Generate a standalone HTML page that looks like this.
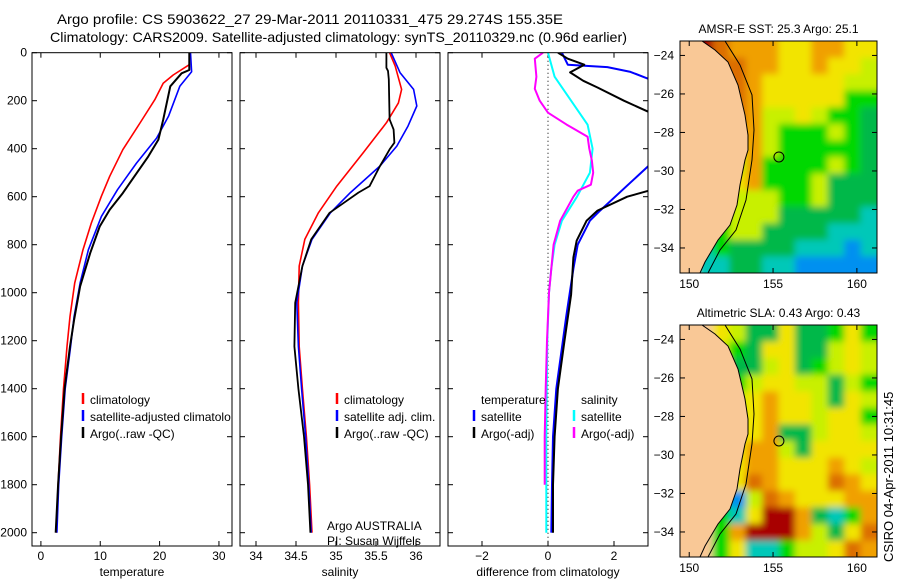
<!DOCTYPE html>
<html><head><meta charset="utf-8"><style>
body{margin:0;background:#fff;width:900px;height:580px;overflow:hidden}
svg text{font-family:"Liberation Sans",sans-serif;fill:#000}
</style></head><body>
<svg id="chart" width="900" height="580" viewBox="0 0 900 580" xmlns="http://www.w3.org/2000/svg">
<defs><filter id="blur" x="-5%" y="-5%" width="110%" height="110%"><feGaussianBlur stdDeviation="3.5"/></filter></defs>
<text x="57" y="24" font-size="14" textLength="506" lengthAdjust="spacingAndGlyphs">Argo profile: CS 5903622_27 29-Mar-2011 20110331_475 29.274S 155.35E</text>
<text x="50" y="42" font-size="14" textLength="577" lengthAdjust="spacingAndGlyphs">Climatology: CARS2009. Satellite-adjusted climatology: synTS_20110329.nc (0.96d earlier)</text>
<g id="plots"></g>
<text transform="translate(893,562) rotate(-90)" font-size="13">CSIRO 04-Apr-2011 10:31:45</text>
</svg>
<script>
// ---- depth profile data ----
const tDepth = [0,50,93,127,196,293,404,515,598,710,821,960,1099,1224,1400,1600,1800,2000];
const tClim  = [25.0,25.0,22.3,20.6,19.2,16.7,13.8,11.6,10.2,8.5,7.1,5.7,4.9,4.4,3.8,3.3,2.9,2.6];
const tDepthSat = [0,79,140,265,356,460,571,682,821,960,1099,1224,1400,1600,1800,2000];
const tSat   = [25.2,25.4,23.4,21.5,19.5,16.1,12.9,10.2,8.0,6.6,5.6,5.0,4.1,3.5,3.0,2.7];
const tDepthArgo = [0,72,86,140,279,362,432,585,654,724,835,974,1113,1224,1400,1600,1800,2000];
const tArgo  = [25.0,25.0,23.7,21.8,20.6,19.8,18.1,13.8,11.6,9.9,8.3,6.6,5.6,4.9,4.0,3.4,2.9,2.5];

const sDepthClim = [0,56,153,209,292,417,556,667,778,889,1042,1224,1400,1600,1800,2000];
const sClim  = [35.67,35.74,35.82,35.78,35.63,35.34,35.01,34.78,34.61,34.54,34.53,34.54,34.58,34.63,34.67,34.70];
const sDepthSat = [0,83,153,222,306,389,472,583,667,778,889,1042,1224,1400,1600,1800,2000];
const sSat   = [35.69,35.80,35.97,36.01,35.90,35.76,35.55,35.18,34.93,34.70,34.58,34.51,34.53,34.57,34.62,34.66,34.69];
const sDepthArgo = [0,63,76,111,278,320,375,403,472,556,583,667,778,889,1042,1224,1400,1600,1800,2000];
const sArgo  = [35.63,35.63,35.65,35.66,35.67,35.72,35.73,35.67,35.55,35.42,35.28,34.92,34.69,34.58,34.49,34.48,34.53,34.60,34.65,34.68];

const dDepthTS = [0,50,60,80,117];
const dTempSat1 = [0.42,0.6,1.8,2.5,3.2];
const dDepthTS2 = [460,471,658,700,800,900,1000,1100,1200,1400,1600,1800,2000];
const dTempSat2 = [3.3,3.05,1.58,1.27,0.9,0.77,0.66,0.55,0.45,0.25,0.15,0.12,0.1];
const dDepthTA = [0,25,50,82,117,145,200,250,260];
const dTempArgo1 = [0.3,0.6,1.1,0.67,1.07,1.5,2.3,3.1,3.3];
const dDepthTA2 = [560,575,600,658,700,783,853,1008,1200,1400,1600,1800,2000];
const dTempArgo2 = [3.3,3.05,2.4,1.5,1.17,0.87,0.77,0.7,0.5,0.3,0.2,0.15,0.15];
const dDepthSS = [0,100,200,300,400,500,600,700,800,900,1000,1200,1400,1600,1800,2000];
const dSalSat  = [0,0.2,0.7,1.2,1.35,1.27,0.88,0.42,0.2,0.1,0.03,-0.02,-0.04,-0.05,-0.05,-0.05];
const dDepthSA = [0,25,100,150,200,250,300,350,400,450,500,550,575,600,650,700,800,900,1000,1200,1400,1600,1800];
const dSalArgo = [-0.15,-0.4,-0.35,-0.4,-0.25,0,0.57,1.2,1.25,1.33,1.37,1.3,0.9,0.77,0.57,0.37,0.17,0.1,0.03,-0.03,-0.07,-0.1,-0.1];

const tempTicks=[0,10,20,30], salTicks=[34,34.5,35,35.5,36], difTicks=[-2,0,2], depthTicks=[0,200,400,600,800,1000,1200,1400,1600,1800,2000];
const lonTicks=[150,155,160], latTicks=[-24,-26,-28,-30,-32,-34];

// ---- map cell data (coarse colour grid) ----
const sstRows=["LroOOOyyOOyy","LLooOOyyOyyl","LLooOyyyyyll","LLLoOyyyyygg","LLLoOllylggG","LLLOOlggglgG","LLLyOlgggggG","LLLlOgggglgG","LLlyOggglGGG","LLllllgglGGG","LLglllGGGGGc","LggllGGGGccc","LcgGGGGcccbc","LccGGccbbbbb"];
const slaRows=["LLylGGyGGgyg","LLlgGyyGGlyl","LLlGGlyGglyl","LLlglyyllGlg","LLglyOyylGyl","LLglyOyylyyg","LLgyyOGGlyyl","LLgyOOlGyyyy","LLgyOOyyyOyl","LLGyoOyyyoOy","LLcbloOyyyOO","LlgcyrrOGcgO","LLgOrrrOlGyo","LLgyccgllyoO"];
const argoLon=155.35, argoLat=-29.274;
const palette={L:"#f9c896",r:"#a80000",o:"#dc6e00",O:"#f0a000",y:"#f2e400",l:"#c8f000",g:"#00d800",G:"#00b848",c:"#00c8b8",b:"#0090f0"};

const NS="http://www.w3.org/2000/svg";
const root=document.getElementById('plots');
function mk(tag,attrs,parent){const e=document.createElementNS(NS,tag);for(const k in attrs)e.setAttribute(k,attrs[k]);(parent||root).appendChild(e);return e;}
function txt(s,attrs,parent){const e=mk('text',attrs,parent);e.textContent=s;return e;}

const Y0=52.7, YS=0.24, FB=546;
const yD=d=>Y0+d*YS;
const panels=[
 {x0:32,x1:232,lo:-1.5,hi:32.2,ticks:tempTicks,label:"temperature",name:"temperature-panel"},
 {x0:240,x1:440,lo:33.8,hi:36.3,ticks:salTicks,label:"salinity",name:"salinity-panel"},
 {x0:448,x1:648,lo:-3.03,hi:3.03,ticks:difTicks,label:"difference from climatology",name:"difference-panel"}
];
panels.forEach((p,i)=>{
 p.x=v=>p.x0+(v-p.lo)/(p.hi-p.lo)*(p.x1-p.x0);
 const g=mk('g',{});
 
 
 p.g=g;
 const cp=mk('clipPath',{id:'cp'+i},g);
 mk('rect',{x:p.x0,y:Y0,width:p.x1-p.x0,height:FB-Y0},cp);
 p.ticks.forEach(t=>{const X=p.x(t);
  mk('line',{x1:X,x2:X,y1:Y0,y2:Y0+5,stroke:'#000'},g);
  mk('line',{x1:X,x2:X,y1:FB,y2:FB-5,stroke:'#000'},g);
  const tl=txt(String(t).replace('-','\u2212'),{x:X,y:560,'font-size':12,'text-anchor':'middle'},g);
  
  
 });
 depthTicks.forEach(d=>{const Y=yD(d);
  mk('line',{x1:p.x0,x2:p.x0+5,y1:Y,y2:Y,stroke:'#000'},g);
  mk('line',{x1:p.x1,x2:p.x1-5,y1:Y,y2:Y,stroke:'#000'},g);
  if(i===0){const yl=txt(String(d),{x:27,y:Y+4,'font-size':12,'text-anchor':'end'},g);
   
   }
 });
 const xl=txt(p.label,{x:(p.x0+p.x1)/2,y:576,'font-size':12,'text-anchor':'middle'},g);
 
 
 p.plot=mk('g',{'clip-path':'url(#cp'+i+')'},g);
});
function line(p,depths,vals,color,w,name){
 const pts=depths.map((d,k)=>p.x(vals[k]).toFixed(1)+','+yD(d).toFixed(1)).join(' ');
 const e=mk('polyline',{points:pts,fill:'none',stroke:color,'stroke-width':w,'stroke-linejoin':'round'},p.plot);
 
 
}
const P=panels;
mk('line',{x1:P[2].x(0),x2:P[2].x(0),y1:Y0,y2:FB,stroke:'#000','stroke-dasharray':'1,3'},P[2].plot);
line(P[0],tDepth,tClim,'#f00',1.6,'temperature-climatology-line');
line(P[0],tDepthSat,tSat,'#00f',1.6,'temperature-satellite-line');
line(P[0],tDepthArgo,tArgo,'#000',2,'temperature-argo-line');
line(P[1],sDepthClim,sClim,'#f00',1.6,'salinity-climatology-line');
line(P[1],sDepthSat,sSat,'#00f',1.6,'salinity-satellite-line');
line(P[1],sDepthArgo,sArgo,'#000',1.8,'salinity-argo-line');
line(P[2],dDepthSS,dSalSat,'#0ff',2,'salinity-satellite-diff-line');
line(P[2],dDepthSA,dSalArgo,'#f0f',2,'salinity-argo-diff-line');
line(P[2],dDepthTS,dTempSat1,'#00f',2,'temperature-satellite-diff-line-upper');
line(P[2],dDepthTS2,dTempSat2,'#00f',2,'temperature-satellite-diff-line-lower');
line(P[2],dDepthTA,dTempArgo1,'#000',2,'temperature-argo-diff-line-upper');
line(P[2],dDepthTA2,dTempArgo2,'#000',2,'temperature-argo-diff-line-lower');
panels.forEach(p=>mk('rect',{x:p.x0,y:Y0,width:p.x1-p.x0,height:FB-Y0,fill:'none',stroke:'#000'},p.g));

// legends
function legend(x,y,color,label,clipW){
 const g=mk('g',{});
 
 
 if(color)mk('line',{x1:x,x2:x,y1:y-11,y2:y,stroke:color,'stroke-width':2.5},g);
 const t=txt(label,{x:x+7,y:y,'font-size':12},g);
 if(clipW){const c=mk('clipPath',{id:'lc'+x+y},g);mk('rect',{x:x,y:y-14,width:clipW,height:18},c);t.setAttribute('clip-path','url(#lc'+x+y+')');}
}
legend(83,404,'#f00','climatology');
legend(83,421,'#00f','satellite-adjusted climatology',148);
legend(83,438,'#000','Argo(..raw -QC)');
legend(337,404,'#f00','climatology');
legend(337,421,'#00f','satellite adj. clim.');
legend(337,438,'#000','Argo(..raw -QC)');
legend(474,404,null,'temperature');
legend(474,421,'#00f','satellite');
legend(474,438,'#000','Argo(-adj)');
legend(574,404,null,'salinity');
legend(574,421,'#0ff','satellite');
legend(574,438,'#f0f','Argo(-adj)');
const a1=txt('Argo AUSTRALIA',{x:327,y:530,'font-size':12});


const a2=txt('PI: Susan Wijffels',{x:327,y:545,'font-size':12});



// maps
const MX0=680,MX1=877,LON0=149.45,LON1=161.2,LAT0=-23.25,LAT1=-35.3;
function drawMap(top,rows,title,name){
 const H=232;
 const g=mk('g',{});
 
 
 const mx=lon=>MX0+(lon-LON0)/(LON1-LON0)*(MX1-MX0);
 const my=lat=>top+(lat-LAT0)/(LAT1-LAT0)*H;
 const nr=rows.length,nc=rows[0].length,cw=(MX1-MX0)/nc,ch=H/nr;
 const cpm=mk('clipPath',{id:'cpm'+top},g);
 mk('rect',{x:MX0,y:top,width:MX1-MX0,height:H},cpm);
 const cg=mk('g',{'clip-path':'url(#cpm'+top+')'},g);
 const bg=mk('g',{filter:'url(#blur)'},cg);
 rows.forEach((r,ri)=>{for(let ci=0;ci<nc;ci++){
  const c=mk('rect',{x:(MX0+ci*cw-(ci===0?10:0)).toFixed(1),y:(top+ri*ch-(ri===0?10:0)).toFixed(1),width:(cw+0.6+(ci===0||ci===nc-1?10:0)).toFixed(1),height:(ch+0.6+(ri===0||ri===nr-1?10:0)).toFixed(1),fill:palette[r[ci]]},bg);
  
  
 }});
 const o=top-41;
 const land=[[680,41],[702,41],[715,50],[728,62],[738,85],[745,115],[748,135],[748,150],[745,160],[740,185],[737,205],[730,225],[718,240],[705,262],[700,273],[680,273]];
 const lp=mk('polygon',{points:land.map(q=>q[0]+','+(q[1]+o)).join(' '),fill:palette.L,stroke:'#000','stroke-width':1},cg);
 
 
 const iso=[[725,41],[740,65],[752,95],[754,130],[752,160],[746,200],[736,230],[720,250],[708,273]];
 const il=mk('polyline',{points:iso.map(q=>q[0]+','+(q[1]+o)).join(' '),fill:'none',stroke:'#000','stroke-width':1},cg);
 
 
 const ci=mk('circle',{cx:mx(argoLon),cy:my(argoLat),r:5,fill:'none',stroke:'#000'},g);
 
 
 mk('rect',{x:MX0,y:top,width:MX1-MX0,height:H,fill:'none',stroke:'#000'},g);
 lonTicks.forEach(l=>{const X=mx(l);
  mk('line',{x1:X,x2:X,y1:top,y2:top+5,stroke:'#000'},g);
  mk('line',{x1:X,x2:X,y1:top+H,y2:top+H-5,stroke:'#000'},g);
  const t=txt(String(l),{x:X,y:top+H+15,'font-size':12,'text-anchor':'middle'},g);
  
  
 });
 latTicks.forEach(l=>{const Y=my(l);
  mk('line',{x1:MX0,x2:MX0+5,y1:Y,y2:Y,stroke:'#000'},g);
  mk('line',{x1:MX1,x2:MX1-5,y1:Y,y2:Y,stroke:'#000'},g);
  const t=txt(String(l).replace('-','\u2212'),{x:674,y:Y+4,'font-size':12,'text-anchor':'end'},g);
  
  
 });
 const tt=txt(title,{x:(MX0+MX1)/2,y:top-8,'font-size':12,'text-anchor':'middle'},g);
 
 
}
drawMap(41,sstRows,'AMSR-E SST: 25.3 Argo: 25.1','sst-map');
drawMap(325,slaRows,'Altimetric SLA: 0.43 Argo: 0.43','sla-map');
</script>
</body></html>
